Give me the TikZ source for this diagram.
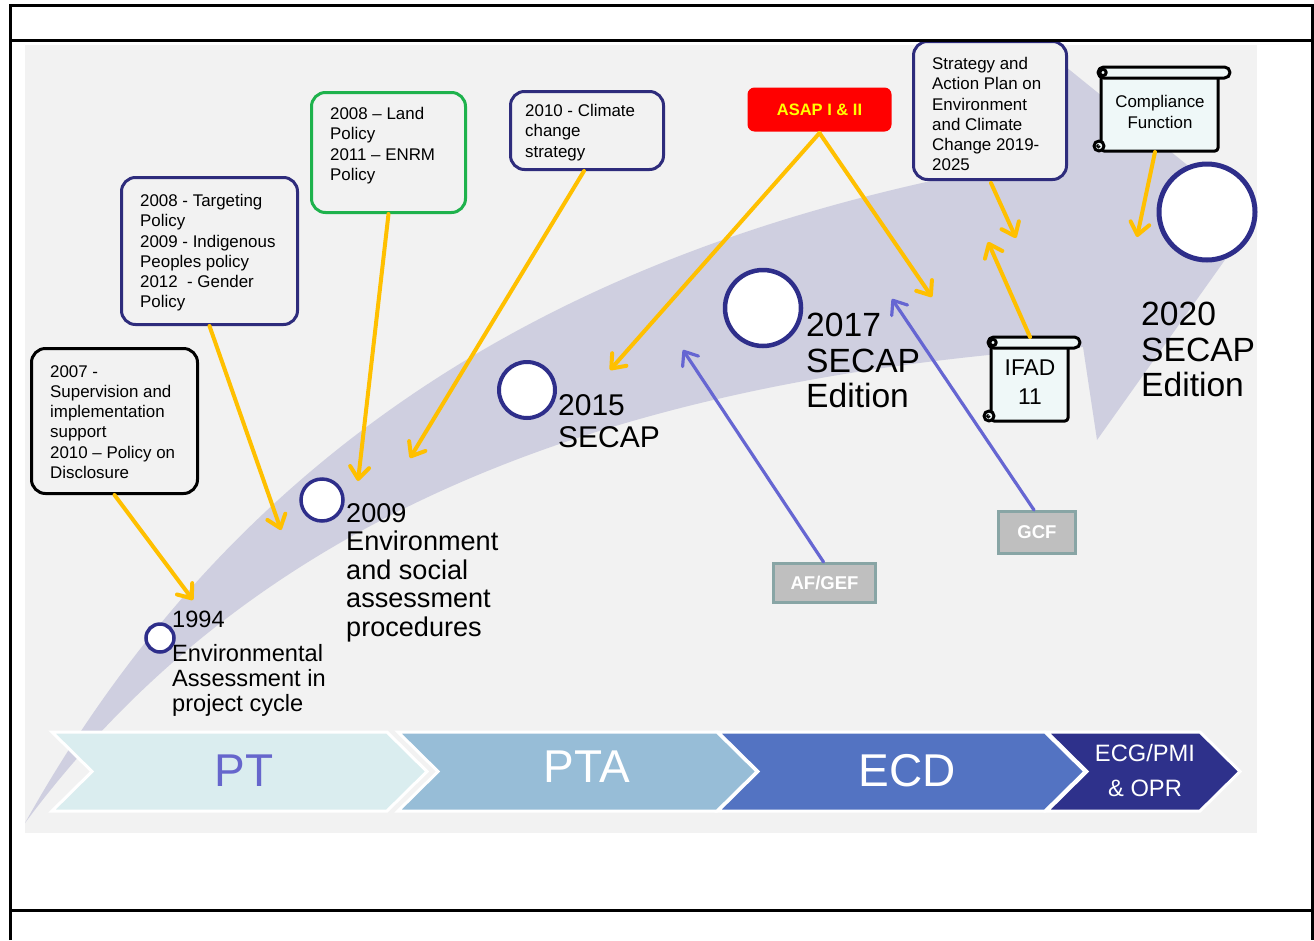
\documentclass[tikz,border=0pt]{standalone}
\usepackage{fontspec}
\setmainfont{Liberation Sans}
\usetikzlibrary{arrows.meta}
\definecolor{panel}{RGB}{242,242,242}
\definecolor{lav}{RGB}{207,207,224}
\definecolor{ptfill}{RGB}{218,237,239}
\definecolor{pttext}{RGB}{102,102,204}
\definecolor{ptafill}{RGB}{151,189,215}
\definecolor{ecdfill}{RGB}{83,115,194}
\definecolor{ecgfill}{RGB}{46,49,139}
\definecolor{navy}{RGB}{46,44,124}
\definecolor{circnavy}{RGB}{46,46,138}
\definecolor{boxgreen}{RGB}{30,178,76}
\definecolor{yel}{RGB}{255,192,0}
\definecolor{blu}{RGB}{102,102,210}
\definecolor{asapred}{RGB}{255,0,0}
\definecolor{asaptext}{RGB}{255,255,0}
\definecolor{grayfill}{RGB}{191,191,191}
\definecolor{grayline}{RGB}{136,165,165}
\definecolor{scrollbg}{RGB}{239,248,248}
\tikzset{
  rbox/.style={draw=navy, line width=3pt, rounded corners=14pt, fill=panel, inner sep=0pt, anchor=north west},
  txt/.style={font=\fontsize{16.9}{20.3}\selectfont, align=left, inner sep=0pt, anchor=north west},
  chev/.style={draw=white, line width=3pt, line join=miter},
  chevtxt/.style={font=\fontsize{46}{48}\selectfont, text=white, inner sep=0pt},
  circ/.style={circle, draw=circnavy, fill=white, inner sep=0pt},
  yarrow/.style={draw=yel, line width=4pt, line cap=round, -{Straight Barb[length=12pt,width=19pt,round]}},
  barrow/.style={draw=blu, line width=3.2pt, line cap=round, -{Straight Barb[length=12pt,width=19pt,round]}},
  gbox/.style={draw=grayline, line width=3pt, fill=grayfill, inner sep=0pt, anchor=north west, text=white, font=\bfseries\fontsize{18.5}{20}\selectfont},
  scrline/.style={draw=black, line width=3pt, fill=scrollbg, line join=round},
  pics/myscroll/.style 2 args={code={
    \path[scrline, rounded corners=3pt] (8,8) -- (8,#2-1) -- (#1-12,#2-1) -- (#1-12,8);
    \path[scrline, rounded corners=5.5pt] (5,0) rectangle (#1,11);
    \path[scrline] (10,5.5) circle (3.2);
    \path[scrline] (6,#2-6) circle (5);
    \draw[line width=1.5pt] (7,#2-6) arc (0:270:1.6);
  }}
}
\begin{document}
\begin{tikzpicture}[x=1pt,y=-1pt]
\useasboundingbox (0,0) rectangle (1314,940);
\fill[white] (0,0) rectangle (1314,940);
% panel
\fill[panel] (25,45) rectangle (1257,833);
% big curved arrow
\fill[lav] (25,823) .. controls (250,420) and (600,240) .. (1010,165) -- (1045,50) -- (1254,219) -- (1097,440) -- (1083,347) .. controls (600,380) and (250,520) .. (25,823) -- cycle;
% chevrons
\path[chev, fill=ptfill] (52,732) -- (387,732) -- (427,771.5) -- (387,811) -- (52,811) -- (92,771.5) -- cycle;
\path[chev, fill=ptafill] (398,732) -- (717,732) -- (757,771.5) -- (717,811) -- (398,811) -- (438,771.5) -- cycle;
\path[chev, fill=ecdfill] (718,732) -- (1045,732) -- (1085,771.5) -- (1045,811) -- (718,811) -- (758,771.5) -- cycle;
\path[chev, fill=ecgfill] (1047,732) -- (1200,732) -- (1240,771.5) -- (1200,811) -- (1047,811) -- (1087,771.5) -- cycle;
\node[chevtxt, text=pttext] (pt) at (244,771) {PT};
\node[chevtxt] (pta) at (587,767) {PTA};
\node[chevtxt] (ecd) at (907,771) {ECD};
\node[chevtxt, font=\fontsize{23.7}{35}\selectfont, align=center] (ecg) at (1145,771) {ECG/PMI\\\& OPR};
% boxes
\node[rbox, draw=black, minimum width=166pt, minimum height=145pt] (b1) at (30,347) {};
\node[txt] (b1t) at (50,365) {2007 -\\Supervision and\\implementation\\support\\2010 – Policy on\\Disclosure};
\node[rbox, minimum width=176pt, minimum height=147pt] (b2) at (120,176) {};
\node[txt] (b2t) at (140,194) {2008 - Targeting\\Policy\\2009 - Indigenous\\Peoples policy\\2012\ \ - Gender\\Policy};
\node[rbox, draw=boxgreen, minimum width=154pt, minimum height=120pt] (b3) at (310,91) {};
\node[txt] (b3t) at (330,107) {2008 – Land\\Policy\\2011 – ENRM\\Policy};
\node[rbox, minimum width=153pt, minimum height=78pt] (b4) at (509,90) {};
\node[txt] (b4t) at (525,104) {2010 - Climate\\change\\strategy};
\node[rbox, minimum width=153pt, minimum height=138pt] (sap) at (912,40) {};
\node[txt] (sapt) at (932,57) {Strategy and\\Action Plan on\\Environment\\and Climate\\Change 2019-\\2025};
\node[rbox, draw=none, fill=asapred, rounded corners=7pt, minimum width=144pt, minimum height=44pt, text=asaptext, font=\bfseries\fontsize{16.5}{18}\selectfont] (asap) at (746,86) {ASAP I \& II};
% scrolls
\pic at (1093,67) {myscroll={137}{85}};
\node[txt, anchor=center, align=center] (cf) at (1160,112) {Compliance\\Function};
\pic at (983,337) {myscroll={97}{85}};
\node[txt, anchor=center, align=center, font=\fontsize{22.8}{29}\selectfont] (ifad) at (1030,382) {IFAD\\11};
% gray boxes
\node[gbox, minimum width=102pt, minimum height=39pt] (afgef) at (772,562) {AF/GEF};
\node[gbox, minimum width=77pt, minimum height=42pt] (gcf) at (997,510) {GCF};
% circles
\node[circ, line width=3.5pt, minimum size=28pt] (c1994) at (160,638) {};
\node[circ, line width=3.5pt, minimum size=42pt] (c2009) at (322,500) {};
\node[circ, line width=4pt, minimum size=56pt] (c2015) at (527,390) {};
\node[circ, line width=4.5pt, minimum size=76pt] (c2017) at (763,308) {};
\node[circ, line width=5pt, minimum size=96pt] (c2020) at (1207,212) {};
% labels
\node[txt, font=\fontsize{23.6}{25}\selectfont] (l1994) at (172,611) {1994\\[9pt]Environmental\\Assessment in\\project cycle};
\node[txt, font=\fontsize{27.1}{28.5}\selectfont] (l2009) at (346,503) {2009\\Environment\\and social\\assessment\\procedures};
\node[txt, font=\fontsize{30}{32}\selectfont] (l2015) at (558,394) {2015\\SECAP};
\node[txt, font=\fontsize{33.6}{35.5}\selectfont] (l2017) at (806,313) {2017\\SECAP\\Edition};
\node[txt, font=\fontsize{33.6}{35.5}\selectfont] (l2020) at (1141,302) {2020\\SECAP\\Edition};
% arrow end points
\coordinate (e1) at (193,600);
\coordinate (e2) at (281,530);
\coordinate (e3) at (358,481);
\coordinate (e4) at (410,458);
\coordinate (e5a) at (610,370);
\coordinate (e5b) at (932,297);
\coordinate (e6) at (1016,238);
\coordinate (e7) at (988,242);
\coordinate (e8) at (1137,237);
\coordinate (e9) at (683,350);
\coordinate (e10) at (892,299);
\coordinate (ifadtop) at (1030,337);
\coordinate (cfbot) at (1155,152);
% yellow arrows
\draw[yarrow] (b1.south) -- (e1);
\draw[yarrow] (b2.south) -- (e2);
\draw[yarrow] (b3.south) -- (e3);
\draw[yarrow] ([xshift=-3pt]b4.south) -- (e4);
\draw[yarrow] (asap.south) -- (e5a);
\draw[yarrow] (asap.south) -- (e5b);
\draw[yarrow] ([xshift=1pt,yshift=-2pt]sap.south) -- (e6);
\draw[yarrow] (ifadtop) -- (e7);
\draw[yarrow] (cfbot) -- (e8);
% blue arrows
\draw[barrow] ([xshift=-1pt]afgef.north) -- (e9);
\draw[barrow] ([xshift=-3pt]gcf.north) -- (e10);
% frame
\draw[line width=3pt] (10,940) -- (10,5) -- (1312,5) -- (1312,940);
\draw[line width=3pt] (10,40) -- (1312,40);
\draw[line width=3pt] (10,910) -- (1312,910);
\end{tikzpicture}
\end{document}
